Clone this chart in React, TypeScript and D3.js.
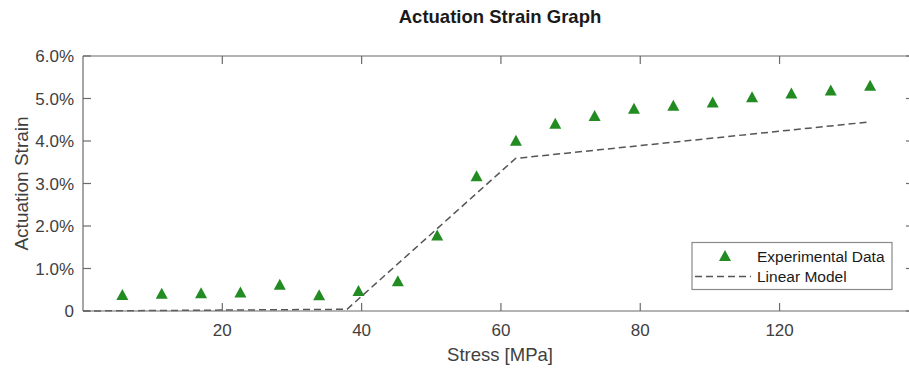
import React from "react";
import * as d3 from "d3";

// stress positions (axis units) and measured strain (%)
const stress = [5.65, 11.3, 16.95, 22.6, 28.25, 33.9, 39.55, 45.2, 50.85, 56.5, 62.15, 67.8, 73.45, 79.1, 84.75, 90.4, 96.05, 101.7, 107.35, 113.0];
const strain = [0.39, 0.42, 0.43, 0.45, 0.63, 0.38, 0.48, 0.71, 1.79, 3.18, 4.02, 4.42, 4.6, 4.77, 4.84, 4.92, 5.04, 5.13, 5.2, 5.31];

// linear model breakpoints
const modelStress = [0, 37.9, 62.1, 113.0];
const modelStrain = [0, 0.04, 3.59, 4.45];

const xTicks = [20, 40, 60, 80, 100];
const xTickLabels = ["20", "40", "60", "80", "120"];
const yTicks = [0, 1, 2, 3, 4, 5, 6];
const yTickLabels = ["0", "1.0%", "2.0%", "3.0%", "4.0%", "5.0%", "6.0%"];

const W = 909;
const H = 370;
const margin = { top: 56, right: -5, bottom: 59, left: 83 };
const FONT = "'Liberation Sans', Arial, Helvetica, sans-serif";
const GREEN = "#228b22";
const AXIS = "#6b6b6b";
const TEXT = "#404040";

export default function App() {
  const x = d3.scaleLinear().domain([0, 119.3]).range([margin.left, W - margin.right]);
  const y = d3.scaleLinear().domain([0, 6]).range([H - margin.bottom, margin.top]);

  const x0 = x.range()[0], x1 = x.range()[1];
  const y0 = y.range()[0], y1 = y.range()[1];

  const line = d3.line<number>()
    .x((d, i) => x(modelStress[i]))
    .y(d => y(d));

  const tri = (cx: number, cy: number, w = 12, h = 11) =>
    `M${cx - w / 2},${cy + h / 2}L${cx + w / 2},${cy + h / 2}L${cx},${cy - h / 2}Z`;

  const tickLen = 8;

  return (
    <svg width={W} height={H} style={{ position: "absolute", left: 0, top: 0, background: "#fff" }} fontFamily={FONT}>
      <rect x={0} y={0} width={W} height={H} fill="#fff" />

      {/* title */}
      <text x={500} y={23} textAnchor="middle" fontSize={18.5} fontWeight="bold" fill="#1a1a1a">
        Actuation Strain Graph
      </text>

      {/* model line */}
      <path d={line(modelStrain) || ""} fill="none" stroke="#555" strokeWidth={1.5} strokeDasharray="7,4" />

      {/* experimental data */}
      {stress.map((s, i) => (
        <path key={i} d={tri(x(s), y(strain[i]))} fill={GREEN} />
      ))}

      {/* axes box */}
      <g stroke={AXIS} strokeWidth={1.2} fill="none">
        <line x1={x0} x2={x0} y1={y0} y2={y1} />
        <line x1={x0} x2={x1} y1={y0} y2={y0} />
        <line x1={x0} x2={x1} y1={y1} y2={y1} />
        <line x1={x1} x2={x1} y1={y0} y2={y1} />
        {xTicks.map(t => (
          <g key={"xt" + t}>
            <line x1={x(t)} x2={x(t)} y1={y0} y2={y0 - tickLen} />
            <line x1={x(t)} x2={x(t)} y1={y1} y2={y1 + tickLen} />
          </g>
        ))}
        {yTicks.map(t => (
          <g key={"yt" + t}>
            <line x1={x0} x2={x0 + tickLen} y1={y(t)} y2={y(t)} />
            <line x1={x1} x2={x1 - tickLen} y1={y(t)} y2={y(t)} />
          </g>
        ))}
      </g>

      {/* tick labels */}
      {xTicks.map((t, i) => (
        <text key={"xl" + t} x={x(t)} y={y0 + 25} textAnchor="middle" fontSize={17} fill={TEXT}>
          {xTickLabels[i]}
        </text>
      ))}
      {yTicks.map((t, i) => (
        <text key={"yl" + t} x={x0 - 9} y={y(t) + 6} textAnchor="end" fontSize={17} fill={TEXT}>
          {yTickLabels[i]}
        </text>
      ))}

      {/* axis titles */}
      <text x={500} y={361} textAnchor="middle" fontSize={18.5} fill={TEXT}>
        Stress [MPa]
      </text>
      <text transform={`translate(28,${(y0 + y1) / 2}) rotate(-90)`} textAnchor="middle" fontSize={19} fill={TEXT}>
        Actuation Strain
      </text>

      {/* legend */}
      <g>
        <rect x={692} y={242.5} width={200} height={47} fill="#fff" stroke="#8a8a8a" strokeWidth={1.2} />
        <path d={tri(725, 255.5)} fill={GREEN} />
        <text x={757} y={262} fontSize={15.5} fill="#1a1a1a">Experimental Data</text>
        <line x1={695} x2={751} y1={276.5} y2={276.5} stroke="#555" strokeWidth={1.5} strokeDasharray="7,4" />
        <text x={757} y={282} fontSize={15.5} fill="#1a1a1a">Linear Model</text>
      </g>
    </svg>
  );
}
